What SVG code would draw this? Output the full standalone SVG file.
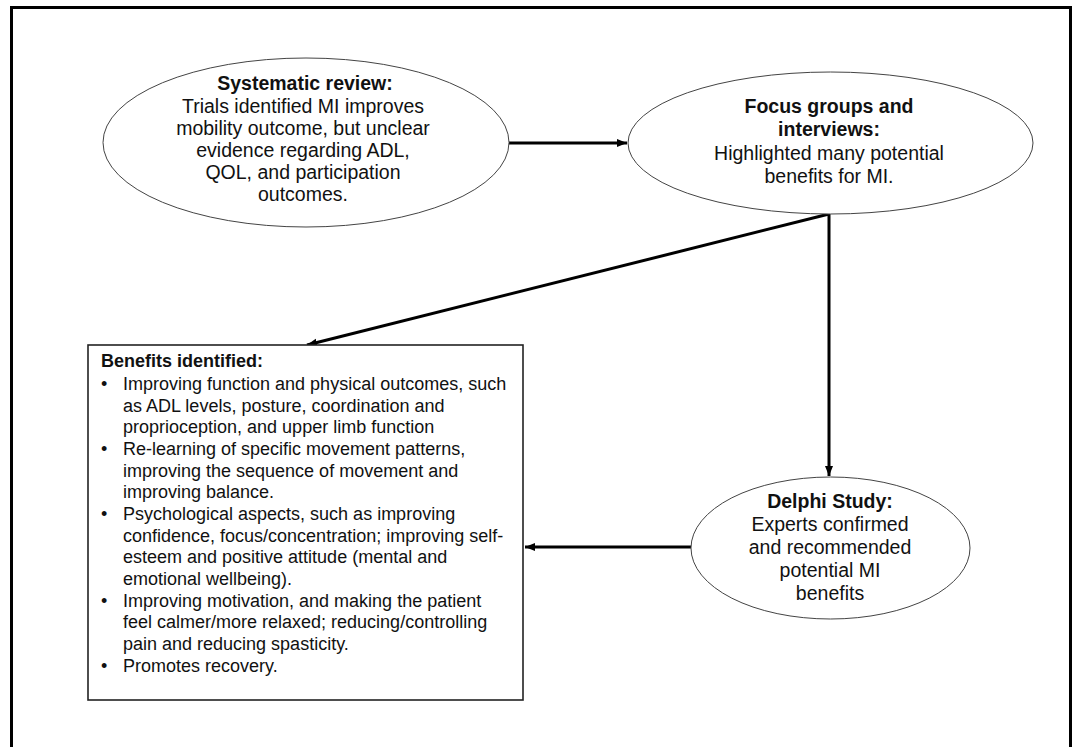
<svg xmlns="http://www.w3.org/2000/svg" width="1074" height="747" viewBox="0 0 1074 747">
  <style>
    text { font-family: "Liberation Sans", Arial, sans-serif; fill: #111; }
    .oval { fill: #fff; stroke: #444; stroke-width: 1; }
    .box { fill: #fff; stroke: #222; stroke-width: 1.6; }
    .el { font-size: 19.5px; text-anchor: middle; }
    .bl { font-size: 18px; }
    .b { font-weight: bold; }
    .link { stroke: #000; stroke-width: 3; fill: none; marker-end: url(#head); }
  </style>
  <defs>
    <marker id="head" markerUnits="userSpaceOnUse" markerWidth="11" markerHeight="9" refX="10" refY="4" orient="auto">
      <path d="M0,0 L10,4 L0,8 z" fill="#000"/>
    </marker>
  </defs>

  <rect width="1074" height="747" fill="#fff"/>
  <!-- outer frame (bottom edge runs past the canvas) -->
  <path d="M11.5,760 L11.5,7.5 L1070.5,7.5 L1070.5,760" fill="none" stroke="#000" stroke-width="3"/>

  <g id="connectors">
    <path class="link" d="M509,143 L627,143"/>
    <path class="link" d="M829,214 L829,476"/>
    <path class="link" d="M829,214 L307,345"/>
    <path class="link" d="M691,547 L525,547"/>
  </g>

  <g id="systematic-review">
    <ellipse class="oval" cx="306" cy="142.5" rx="203" ry="84.5"/>
    <text class="el b" x="305" y="90">Systematic review:</text>
    <text class="el" x="303" y="112.5">Trials identified MI improves</text>
    <text class="el" x="303" y="134.5">mobility outcome, but unclear</text>
    <text class="el" x="303" y="156.5">evidence regarding ADL,</text>
    <text class="el" x="303" y="178.5">QOL, and participation</text>
    <text class="el" x="303" y="200.5">outcomes.</text>
  </g>

  <g id="focus-groups">
    <ellipse class="oval" cx="830.5" cy="143" rx="202.5" ry="71"/>
    <text class="el b" x="829" y="113">Focus groups and</text>
    <text class="el b" x="829" y="136">interviews:</text>
    <text class="el" x="829" y="160">Highlighted many potential</text>
    <text class="el" x="829" y="183">benefits for MI.</text>
  </g>

  <g id="delphi-study">
    <ellipse class="oval" cx="830.5" cy="548" rx="139.5" ry="71"/>
    <text class="el b" x="830" y="508">Delphi Study:</text>
    <text class="el" x="830" y="531">Experts confirmed</text>
    <text class="el" x="830" y="554">and recommended</text>
    <text class="el" x="830" y="577">potential MI</text>
    <text class="el" x="830" y="600">benefits</text>
  </g>

  <g id="benefits-identified">
    <rect class="box" x="88" y="345" width="435" height="355"/>
    <text class="bl b" x="101" y="367">Benefits identified:</text>
    <g class="bl">
      <text class="bl" x="101" y="390">•</text>
      <text class="bl" x="123" y="390">Improving function and physical outcomes, such</text>
      <text class="bl" x="123" y="412">as ADL levels, posture, coordination and</text>
      <text class="bl" x="123" y="433">proprioception, and upper limb function</text>
      <text class="bl" x="101" y="455">•</text>
      <text class="bl" x="123" y="455">Re-learning of specific movement patterns,</text>
      <text class="bl" x="123" y="477">improving the sequence of movement and</text>
      <text class="bl" x="123" y="498">improving balance.</text>
      <text class="bl" x="101" y="520">•</text>
      <text class="bl" x="123" y="520">Psychological aspects, such as improving</text>
      <text class="bl" x="123" y="542">confidence, focus/concentration; improving self-</text>
      <text class="bl" x="123" y="563">esteem and positive attitude (mental and</text>
      <text class="bl" x="123" y="585">emotional wellbeing).</text>
      <text class="bl" x="101" y="607">•</text>
      <text class="bl" x="123" y="607">Improving motivation, and making the patient</text>
      <text class="bl" x="123" y="628">feel calmer/more relaxed; reducing/controlling</text>
      <text class="bl" x="123" y="650">pain and reducing spasticity.</text>
      <text class="bl" x="101" y="672">•</text>
      <text class="bl" x="123" y="672">Promotes recovery.</text>
    </g>
  </g>
</svg>
